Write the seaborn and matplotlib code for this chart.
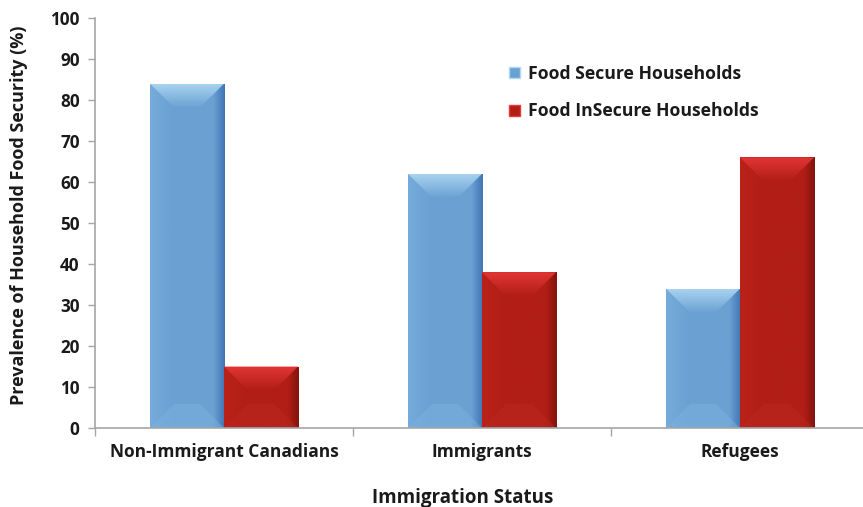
import numpy as np
import pandas as pd
import matplotlib
matplotlib.use("Agg")
import matplotlib.pyplot as plt
import seaborn as sns
from matplotlib.patches import Polygon, Patch
from matplotlib.ticker import FixedLocator

categories = ["Non-Immigrant Canadians", "Immigrants", "Refugees"]
series = ["Food Secure Households", "Food InSecure Households"]
secure = [84, 62, 34]
insecure = [15, 38, 66]
y_ticks = [0, 10, 20, 30, 40, 50, 60, 70, 80, 90, 100]

df = pd.DataFrame({
    "status": categories * 2,
    "series": [series[0]] * 3 + [series[1]] * 3,
    "value": secure + insecure,
})

sns.set_theme(style="white")
FONT = ["Open Sans", "DejaVu Sans"]
plt.rcParams["font.family"] = FONT

colors = {"main": ["#6aa1d3", "#b21e16"],
          "light": ["#b0d9f3", "#e8393a"],
          "left": ["#76acdb", "#b92219"],
          "bottom": ["#7eb3e0", "#bb2a20"],
          "dark": ["#3f75b5", "#82140e"]}

fig = plt.figure(figsize=(8.63, 5.07), dpi=100)
ax = fig.add_axes([95 / 863, 1 - 428 / 507, 774 / 863, 410 / 507])

sns.barplot(data=df, x="status", y="value", hue="series", palette=colors["main"],
            width=0.574, saturation=1, edgecolor="none", linewidth=0, ax=ax,
            legend=False)

ax.set_xlim(-0.5, 2.5)
ax.set_ylim(0, 100)

fig.canvas.draw()
inv = ax.transData.inverted()
px_x = inv.transform((1, 0))[0] - inv.transform((0, 0))[0]
px_y = inv.transform((0, 1))[1] - inv.transform((0, 0))[1]

bars = [p for p in ax.patches]
for i, bar in enumerate(bars):
    s = 0 if i < 3 else 1
    x0 = bar.get_x(); w = bar.get_width(); h = bar.get_height()
    x1 = x0 + w
    cmap = matplotlib.colors.LinearSegmentedColormap.from_list(
        "g", [(0, colors["left"][s]), (0.3, colors["main"][s]),
              (0.85, colors["main"][s]), (1, colors["dark"][s])])
    grad = np.linspace(0, 1, 256).reshape(1, -1)
    im = ax.imshow(grad, extent=[x0, x1, 0, h], aspect="auto", cmap=cmap,
                   origin="lower", zorder=2, interpolation="bilinear")
    im.set_clip_path(bar)
    d = min(24, w / px_x * 0.34)
    dx = d * px_x
    dy = min(d * px_y, h / 2)
    top = Polygon([(x0, h), (x1, h), (x1 - dx, h - dy), (x0 + dx, h - dy)],
                  closed=True, facecolor="none", edgecolor="none", zorder=3)
    ax.add_patch(top)
    vcmap = matplotlib.colors.LinearSegmentedColormap.from_list(
        "v", [colors["main"][s], colors["light"][s]])
    vgrad = np.linspace(0, 1, 256).reshape(-1, 1)
    im2 = ax.imshow(vgrad, extent=[x0, x1, h - dy, h], aspect="auto", cmap=vcmap,
                    origin="lower", zorder=3, interpolation="bilinear", alpha=0.9)
    im2.set_clip_path(top)
    bot = Polygon([(x0, 0), (x1, 0), (x1 - dx, dy), (x0 + dx, dy)],
                  closed=True, facecolor=colors["bottom"][s], edgecolor="none",
                  alpha=0.45, zorder=3)
    ax.add_patch(bot)

ax.set_xlim(-0.5, 2.5)
ax.set_ylim(0, 100)

for side in ["top", "right"]:
    ax.spines[side].set_visible(False)
for side in ["left", "bottom"]:
    ax.spines[side].set_color("#a6a6a6")
    ax.spines[side].set_linewidth(1.2)
ax.spines["bottom"].set_zorder(5)

ax.set_yticks(y_ticks)
ax.tick_params(axis="y", direction="out", length=5, width=1, color="#a6a6a6",
               left=True, labelsize=12.3, pad=6)
ax.tick_params(axis="x", which="major", length=0, labelsize=12.5, pad=11)
ax.xaxis.set_minor_locator(FixedLocator([-0.5, 0.5, 1.5, 2.5]))
ax.tick_params(axis="x", which="minor", direction="out", length=6, width=1,
               color="#a6a6a6", bottom=True)
for lab in ax.get_xticklabels() + ax.get_yticklabels():
    lab.set_fontweight("bold")
    lab.set_color("#1a1a1a")

ax.set_xlabel("Immigration Status", fontsize=13.5, fontweight="bold",
              color="#1a1a1a")
ax.xaxis.set_label_coords((463 - 95) / 774, -(488 - 428) / 410)
ax.set_ylabel("Prevalence of Household Food Security (%)", fontsize=13,
              fontweight="bold", color="#1a1a1a")
ax.yaxis.set_label_coords(-(95 - 28) / 774, 0.52)
ax.grid(False)

handles = [Patch(facecolor=colors["main"][0], edgecolor=colors["light"][0]),
           Patch(facecolor=colors["main"][1], edgecolor=colors["light"][1])]
leg = ax.legend(handles, series, loc="upper left",
                bbox_to_anchor=((502 - 95) / 774, (428 - 58) / 410),
                frameon=False, handlelength=0.6, handleheight=0.6,
                handletextpad=0.5, labelspacing=1.1, borderaxespad=0,
                prop={"family": FONT, "weight": "bold", "size": 12.7})
for t in leg.get_texts():
    t.set_color("#1a1a1a")

fig.savefig("out.png", dpi=100)
